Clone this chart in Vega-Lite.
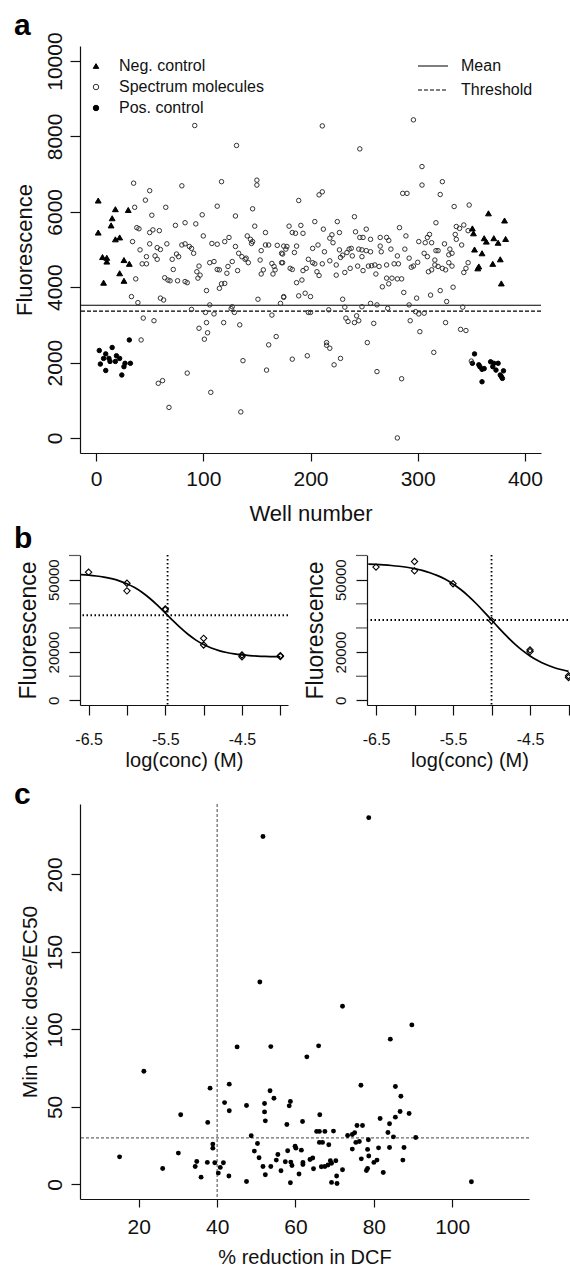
{
"$schema": "https://vega.github.io/schema/vega-lite/v6.json",
"background": "white",
"padding": {"left": 13, "top": 10, "right": 0, "bottom": 1},
"config": {
  "font": "Liberation Sans",
  "view": {"stroke": null},
  "axis": {"grid": false, "domainColor": "#111", "tickColor": "#111", "labelColor": "#111", "titleColor": "#111", "labelFont": "Liberation Sans", "titleFont": "Liberation Sans", "titleFontWeight": "normal", "domainWidth": 1.2, "tickWidth": 1.2, "labelFlush": false},
  "title": {"font": "Liberation Sans", "fontWeight": "bold", "fontSize": 30, "color": "#000", "anchor": "start", "frame": "group"}
},
"datasets": {
  "wells": [
    {"w":2,"f":6300,"t":"Neg. control"},{"w":18,"f":6070,"t":"Neg. control"},{"w":30,"f":6050,"t":"Neg. control"},{"w":15,"f":5830,"t":"Neg. control"},{"w":14,"f":5640,"t":"Neg. control"},{"w":2,"f":5450,"t":"Neg. control"},{"w":18,"f":5270,"t":"Neg. control"},{"w":22,"f":5320,"t":"Neg. control"},{"w":6,"f":4800,"t":"Neg. control"},{"w":10,"f":4780,"t":"Neg. control"},{"w":10,"f":4680,"t":"Neg. control"},{"w":26,"f":4720,"t":"Neg. control"},{"w":31,"f":4620,"t":"Neg. control"},{"w":22,"f":4370,"t":"Neg. control"},{"w":26,"f":4170,"t":"Neg. control"},{"w":7,"f":4120,"t":"Neg. control"},
    {"w":366,"f":5960,"t":"Neg. control"},{"w":351,"f":5560,"t":"Neg. control"},{"w":352,"f":5430,"t":"Neg. control"},{"w":362,"f":5300,"t":"Neg. control"},{"w":364,"f":5210,"t":"Neg. control"},{"w":353,"f":5000,"t":"Neg. control"},{"w":360,"f":4900,"t":"Neg. control"},{"w":357,"f":4550,"t":"Neg. control"},{"w":356,"f":4500,"t":"Neg. control"},{"w":370,"f":4620,"t":"Neg. control"},{"w":377,"f":4740,"t":"Neg. control"},{"w":378,"f":4100,"t":"Neg. control"},{"w":381,"f":5770,"t":"Neg. control"},{"w":382,"f":5280,"t":"Neg. control"},{"w":375,"f":5180,"t":"Neg. control"},{"w":371,"f":5300,"t":"Neg. control"},
    {"w":31,"f":2600,"t":"Pos. control"},{"w":3,"f":2320,"t":"Pos. control"},{"w":15,"f":2400,"t":"Pos. control"},{"w":9,"f":2230,"t":"Pos. control"},{"w":19,"f":2180,"t":"Pos. control"},{"w":12,"f":2110,"t":"Pos. control"},{"w":22,"f":2110,"t":"Pos. control"},{"w":4,"f":1960,"t":"Pos. control"},{"w":13,"f":2030,"t":"Pos. control"},{"w":18,"f":2030,"t":"Pos. control"},{"w":27,"f":1980,"t":"Pos. control"},{"w":32,"f":1980,"t":"Pos. control"},{"w":26,"f":1890,"t":"Pos. control"},{"w":9,"f":1790,"t":"Pos. control"},{"w":24,"f":1670,"t":"Pos. control"},{"w":7,"f":2110,"t":"Pos. control"},
    {"w":353,"f":2230,"t":"Pos. control"},{"w":351,"f":1980,"t":"Pos. control"},{"w":357,"f":1940,"t":"Pos. control"},{"w":358,"f":1890,"t":"Pos. control"},{"w":360,"f":1820,"t":"Pos. control"},{"w":360,"f":1490,"t":"Pos. control"},{"w":362,"f":1840,"t":"Pos. control"},{"w":368,"f":2020,"t":"Pos. control"},{"w":370,"f":1890,"t":"Pos. control"},{"w":371,"f":1980,"t":"Pos. control"},{"w":373,"f":1800,"t":"Pos. control"},{"w":375,"f":1980,"t":"Pos. control"},{"w":377,"f":1670,"t":"Pos. control"},{"w":378,"f":1630,"t":"Pos. control"},{"w":380,"f":1780,"t":"Pos. control"},{"w":379,"f":1580,"t":"Pos. control"},
    {"w":35,"f":6760,"t":"Spectrum molecules"},{"w":50,"f":6560,"t":"Spectrum molecules"},{"w":46,"f":6310,"t":"Spectrum molecules"},{"w":36,"f":6120,"t":"Spectrum molecules"},{"w":65,"f":6120,"t":"Spectrum molecules"},{"w":52,"f":5910,"t":"Spectrum molecules"},{"w":38,"f":5580,"t":"Spectrum molecules"},{"w":40,"f":5550,"t":"Spectrum molecules"},{"w":50,"f":5450,"t":"Spectrum molecules"},{"w":53,"f":5520,"t":"Spectrum molecules"},{"w":59,"f":5500,"t":"Spectrum molecules"},{"w":74,"f":5640,"t":"Spectrum molecules"},{"w":34,"f":5210,"t":"Spectrum molecules"},{"w":50,"f":5150,"t":"Spectrum molecules"},{"w":41,"f":4990,"t":"Spectrum molecules"},{"w":57,"f":5050,"t":"Spectrum molecules"},{"w":60,"f":5000,"t":"Spectrum molecules"},{"w":66,"f":5150,"t":"Spectrum molecules"},{"w":47,"f":4810,"t":"Spectrum molecules"},{"w":55,"f":4830,"t":"Spectrum molecules"},{"w":57,"f":4740,"t":"Spectrum molecules"},{"w":43,"f":4620,"t":"Spectrum molecules"},{"w":47,"f":4620,"t":"Spectrum molecules"},{"w":71,"f":4740,"t":"Spectrum molecules"},{"w":75,"f":4880,"t":"Spectrum molecules"},{"w":77,"f":4810,"t":"Spectrum molecules"},{"w":37,"f":4220,"t":"Spectrum molecules"},{"w":64,"f":4250,"t":"Spectrum molecules"},{"w":67,"f":4190,"t":"Spectrum molecules"},{"w":69,"f":4170,"t":"Spectrum molecules"},{"w":76,"f":4170,"t":"Spectrum molecules"},{"w":72,"f":4470,"t":"Spectrum molecules"},{"w":33,"f":3750,"t":"Spectrum molecules"},{"w":39,"f":3590,"t":"Spectrum molecules"},{"w":60,"f":3710,"t":"Spectrum molecules"},{"w":63,"f":3660,"t":"Spectrum molecules"},{"w":44,"f":3180,"t":"Spectrum molecules"},{"w":54,"f":3110,"t":"Spectrum molecules"},{"w":42,"f":2600,"t":"Spectrum molecules"},{"w":58,"f":1450,"t":"Spectrum molecules"},{"w":62,"f":1520,"t":"Spectrum molecules"},{"w":68,"f":810,"t":"Spectrum molecules"},
    {"w":92,"f":8290,"t":"Spectrum molecules"},{"w":131,"f":7760,"t":"Spectrum molecules"},{"w":80,"f":6690,"t":"Spectrum molecules"},{"w":117,"f":6800,"t":"Spectrum molecules"},{"w":150,"f":6840,"t":"Spectrum molecules"},{"w":150,"f":6710,"t":"Spectrum molecules"},{"w":113,"f":6150,"t":"Spectrum molecules"},{"w":146,"f":6080,"t":"Spectrum molecules"},{"w":99,"f":5920,"t":"Spectrum molecules"},{"w":130,"f":5890,"t":"Spectrum molecules"},{"w":83,"f":5710,"t":"Spectrum molecules"},{"w":93,"f":5680,"t":"Spectrum molecules"},{"w":148,"f":5620,"t":"Spectrum molecules"},{"w":158,"f":5450,"t":"Spectrum molecules"},{"w":100,"f":5360,"t":"Spectrum molecules"},{"w":124,"f":5320,"t":"Spectrum molecules"},{"w":120,"f":5210,"t":"Spectrum molecules"},{"w":108,"f":5160,"t":"Spectrum molecules"},{"w":113,"f":5140,"t":"Spectrum molecules"},{"w":80,"f":5120,"t":"Spectrum molecules"},{"w":83,"f":5150,"t":"Spectrum molecules"},{"w":87,"f":5080,"t":"Spectrum molecules"},{"w":89,"f":5030,"t":"Spectrum molecules"},{"w":91,"f":4900,"t":"Spectrum molecules"},{"w":130,"f":5080,"t":"Spectrum molecules"},{"w":141,"f":5360,"t":"Spectrum molecules"},{"w":144,"f":5270,"t":"Spectrum molecules"},{"w":146,"f":5210,"t":"Spectrum molecules"},{"w":145,"f":5160,"t":"Spectrum molecules"},{"w":154,"f":4970,"t":"Spectrum molecules"},{"w":158,"f":5120,"t":"Spectrum molecules"},{"w":161,"f":5120,"t":"Spectrum molecules"},{"w":169,"f":5110,"t":"Spectrum molecules"},{"w":173,"f":4900,"t":"Spectrum molecules"},{"w":133,"f":4900,"t":"Spectrum molecules"},{"w":136,"f":4810,"t":"Spectrum molecules"},{"w":139,"f":4740,"t":"Spectrum molecules"},{"w":142,"f":4650,"t":"Spectrum molecules"},{"w":140,"f":4770,"t":"Spectrum molecules"},{"w":106,"f":4650,"t":"Spectrum molecules"},{"w":110,"f":4680,"t":"Spectrum molecules"},{"w":113,"f":4470,"t":"Spectrum molecules"},{"w":115,"f":4460,"t":"Spectrum molecules"},{"w":123,"f":4550,"t":"Spectrum molecules"},{"w":127,"f":4680,"t":"Spectrum molecules"},{"w":122,"f":4370,"t":"Spectrum molecules"},{"w":96,"f":4560,"t":"Spectrum molecules"},{"w":94,"f":4410,"t":"Spectrum molecules"},{"w":97,"f":4320,"t":"Spectrum molecules"},{"w":153,"f":4720,"t":"Spectrum molecules"},{"w":156,"f":4460,"t":"Spectrum molecules"},{"w":154,"f":4350,"t":"Spectrum molecules"},{"w":164,"f":4630,"t":"Spectrum molecules"},{"w":166,"f":4550,"t":"Spectrum molecules"},{"w":167,"f":4460,"t":"Spectrum molecules"},{"w":165,"f":4350,"t":"Spectrum molecules"},{"w":173,"f":4650,"t":"Spectrum molecules"},{"w":132,"f":4440,"t":"Spectrum molecules"},{"w":83,"f":4150,"t":"Spectrum molecules"},{"w":85,"f":4120,"t":"Spectrum molecules"},{"w":95,"f":4240,"t":"Spectrum molecules"},{"w":117,"f":4090,"t":"Spectrum molecules"},{"w":120,"f":4100,"t":"Spectrum molecules"},{"w":115,"f":3970,"t":"Spectrum molecules"},{"w":103,"f":3910,"t":"Spectrum molecules"},{"w":151,"f":3680,"t":"Spectrum molecules"},{"w":175,"f":3750,"t":"Spectrum molecules"},{"w":172,"f":3570,"t":"Spectrum molecules"},{"w":106,"f":3530,"t":"Spectrum molecules"},{"w":89,"f":3410,"t":"Spectrum molecules"},{"w":102,"f":3330,"t":"Spectrum molecules"},{"w":110,"f":3290,"t":"Spectrum molecules"},{"w":127,"f":3480,"t":"Spectrum molecules"},{"w":126,"f":3430,"t":"Spectrum molecules"},{"w":129,"f":3330,"t":"Spectrum molecules"},{"w":164,"f":3260,"t":"Spectrum molecules"},{"w":103,"f":3060,"t":"Spectrum molecules"},{"w":119,"f":3060,"t":"Spectrum molecules"},{"w":134,"f":3000,"t":"Spectrum molecules"},{"w":96,"f":2910,"t":"Spectrum molecules"},{"w":104,"f":2790,"t":"Spectrum molecules"},{"w":101,"f":2620,"t":"Spectrum molecules"},{"w":168,"f":2690,"t":"Spectrum molecules"},{"w":161,"f":2470,"t":"Spectrum molecules"},{"w":137,"f":2050,"t":"Spectrum molecules"},{"w":159,"f":1800,"t":"Spectrum molecules"},{"w":85,"f":1720,"t":"Spectrum molecules"},{"w":107,"f":1210,"t":"Spectrum molecules"},{"w":135,"f":690,"t":"Spectrum molecules"},
    {"w":211,"f":8280,"t":"Spectrum molecules"},{"w":246,"f":7670,"t":"Spectrum molecules"},{"w":208,"f":6450,"t":"Spectrum molecules"},{"w":211,"f":6530,"t":"Spectrum molecules"},{"w":189,"f":6300,"t":"Spectrum molecules"},{"w":241,"f":5870,"t":"Spectrum molecules"},{"w":204,"f":5740,"t":"Spectrum molecules"},{"w":225,"f":5740,"t":"Spectrum molecules"},{"w":180,"f":5620,"t":"Spectrum molecules"},{"w":191,"f":5640,"t":"Spectrum molecules"},{"w":183,"f":5450,"t":"Spectrum molecules"},{"w":186,"f":5430,"t":"Spectrum molecules"},{"w":193,"f":5430,"t":"Spectrum molecules"},{"w":212,"f":5540,"t":"Spectrum molecules"},{"w":227,"f":5450,"t":"Spectrum molecules"},{"w":252,"f":5540,"t":"Spectrum molecules"},{"w":220,"f":5390,"t":"Spectrum molecules"},{"w":218,"f":5300,"t":"Spectrum molecules"},{"w":221,"f":5180,"t":"Spectrum molecules"},{"w":242,"f":5470,"t":"Spectrum molecules"},{"w":246,"f":5320,"t":"Spectrum molecules"},{"w":249,"f":5320,"t":"Spectrum molecules"},{"w":256,"f":5270,"t":"Spectrum molecules"},{"w":265,"f":5320,"t":"Spectrum molecules"},{"w":271,"f":5320,"t":"Spectrum molecules"},{"w":175,"f":5090,"t":"Spectrum molecules"},{"w":178,"f":5080,"t":"Spectrum molecules"},{"w":177,"f":5010,"t":"Spectrum molecules"},{"w":174,"f":4880,"t":"Spectrum molecules"},{"w":185,"f":4920,"t":"Spectrum molecules"},{"w":187,"f":5090,"t":"Spectrum molecules"},{"w":202,"f":5030,"t":"Spectrum molecules"},{"w":207,"f":5120,"t":"Spectrum molecules"},{"w":213,"f":4940,"t":"Spectrum molecules"},{"w":227,"f":4990,"t":"Spectrum molecules"},{"w":230,"f":4850,"t":"Spectrum molecules"},{"w":234,"f":4920,"t":"Spectrum molecules"},{"w":236,"f":5010,"t":"Spectrum molecules"},{"w":238,"f":5030,"t":"Spectrum molecules"},{"w":239,"f":4830,"t":"Spectrum molecules"},{"w":245,"f":5010,"t":"Spectrum molecules"},{"w":248,"f":4990,"t":"Spectrum molecules"},{"w":252,"f":4970,"t":"Spectrum molecules"},{"w":256,"f":4940,"t":"Spectrum molecules"},{"w":265,"f":5090,"t":"Spectrum molecules"},{"w":266,"f":4940,"t":"Spectrum molecules"},{"w":174,"f":4650,"t":"Spectrum molecules"},{"w":198,"f":4740,"t":"Spectrum molecules"},{"w":202,"f":4650,"t":"Spectrum molecules"},{"w":204,"f":4620,"t":"Spectrum molecules"},{"w":211,"f":4620,"t":"Spectrum molecules"},{"w":218,"f":4700,"t":"Spectrum molecules"},{"w":224,"f":4590,"t":"Spectrum molecules"},{"w":228,"f":4790,"t":"Spectrum molecules"},{"w":232,"f":4390,"t":"Spectrum molecules"},{"w":237,"f":4500,"t":"Spectrum molecules"},{"w":244,"f":4560,"t":"Spectrum molecules"},{"w":248,"f":4810,"t":"Spectrum molecules"},{"w":249,"f":4440,"t":"Spectrum molecules"},{"w":254,"f":4560,"t":"Spectrum molecules"},{"w":257,"f":4570,"t":"Spectrum molecules"},{"w":260,"f":4590,"t":"Spectrum molecules"},{"w":261,"f":4350,"t":"Spectrum molecules"},{"w":264,"f":4550,"t":"Spectrum molecules"},{"w":271,"f":4590,"t":"Spectrum molecules"},{"w":271,"f":4240,"t":"Spectrum molecules"},{"w":181,"f":4500,"t":"Spectrum molecules"},{"w":183,"f":4470,"t":"Spectrum molecules"},{"w":193,"f":4440,"t":"Spectrum molecules"},{"w":196,"f":4500,"t":"Spectrum molecules"},{"w":206,"f":4410,"t":"Spectrum molecules"},{"w":208,"f":4310,"t":"Spectrum molecules"},{"w":224,"f":4320,"t":"Spectrum molecules"},{"w":187,"f":4120,"t":"Spectrum molecules"},{"w":192,"f":4190,"t":"Spectrum molecules"},{"w":267,"f":4010,"t":"Spectrum molecules"},{"w":273,"f":4090,"t":"Spectrum molecules"},{"w":189,"f":3770,"t":"Spectrum molecules"},{"w":195,"f":3840,"t":"Spectrum molecules"},{"w":200,"f":3750,"t":"Spectrum molecules"},{"w":175,"f":3730,"t":"Spectrum molecules"},{"w":230,"f":3680,"t":"Spectrum molecules"},{"w":232,"f":3470,"t":"Spectrum molecules"},{"w":256,"f":3570,"t":"Spectrum molecules"},{"w":262,"f":3530,"t":"Spectrum molecules"},{"w":248,"f":3480,"t":"Spectrum molecules"},{"w":272,"f":3440,"t":"Spectrum molecules"},{"w":198,"f":3330,"t":"Spectrum molecules"},{"w":200,"f":3330,"t":"Spectrum molecules"},{"w":217,"f":3400,"t":"Spectrum molecules"},{"w":233,"f":3180,"t":"Spectrum molecules"},{"w":235,"f":3090,"t":"Spectrum molecules"},{"w":241,"f":3060,"t":"Spectrum molecules"},{"w":245,"f":3110,"t":"Spectrum molecules"},{"w":243,"f":3240,"t":"Spectrum molecules"},{"w":259,"f":3040,"t":"Spectrum molecules"},{"w":253,"f":2530,"t":"Spectrum molecules"},{"w":215,"f":2530,"t":"Spectrum molecules"},{"w":215,"f":2460,"t":"Spectrum molecules"},{"w":218,"f":2380,"t":"Spectrum molecules"},{"w":183,"f":2090,"t":"Spectrum molecules"},{"w":197,"f":2180,"t":"Spectrum molecules"},{"w":228,"f":2110,"t":"Spectrum molecules"},{"w":222,"f":1940,"t":"Spectrum molecules"},{"w":262,"f":1760,"t":"Spectrum molecules"},
    {"w":296,"f":8440,"t":"Spectrum molecules"},{"w":304,"f":7200,"t":"Spectrum molecules"},{"w":286,"f":6490,"t":"Spectrum molecules"},{"w":290,"f":6490,"t":"Spectrum molecules"},{"w":304,"f":6710,"t":"Spectrum molecules"},{"w":323,"f":6800,"t":"Spectrum molecules"},{"w":321,"f":6460,"t":"Spectrum molecules"},{"w":334,"f":6140,"t":"Spectrum molecules"},{"w":348,"f":6180,"t":"Spectrum molecules"},{"w":283,"f":5580,"t":"Spectrum molecules"},{"w":317,"f":5710,"t":"Spectrum molecules"},{"w":336,"f":5610,"t":"Spectrum molecules"},{"w":343,"f":5650,"t":"Spectrum molecules"},{"w":339,"f":5560,"t":"Spectrum molecules"},{"w":335,"f":5400,"t":"Spectrum molecules"},{"w":273,"f":5240,"t":"Spectrum molecules"},{"w":289,"f":5360,"t":"Spectrum molecules"},{"w":301,"f":5210,"t":"Spectrum molecules"},{"w":309,"f":5320,"t":"Spectrum molecules"},{"w":311,"f":5400,"t":"Spectrum molecules"},{"w":307,"f":5180,"t":"Spectrum molecules"},{"w":313,"f":5180,"t":"Spectrum molecules"},{"w":336,"f":5270,"t":"Spectrum molecules"},{"w":341,"f":5120,"t":"Spectrum molecules"},{"w":347,"f":5500,"t":"Spectrum molecules"},{"w":325,"f":5150,"t":"Spectrum molecules"},{"w":275,"f":5010,"t":"Spectrum molecules"},{"w":288,"f":5010,"t":"Spectrum molecules"},{"w":317,"f":4970,"t":"Spectrum molecules"},{"w":319,"f":4970,"t":"Spectrum molecules"},{"w":330,"f":5010,"t":"Spectrum molecules"},{"w":329,"f":4860,"t":"Spectrum molecules"},{"w":332,"f":4900,"t":"Spectrum molecules"},{"w":281,"f":4830,"t":"Spectrum molecules"},{"w":306,"f":4900,"t":"Spectrum molecules"},{"w":309,"f":4810,"t":"Spectrum molecules"},{"w":292,"f":4770,"t":"Spectrum molecules"},{"w":278,"f":4620,"t":"Spectrum molecules"},{"w":282,"f":4620,"t":"Spectrum molecules"},{"w":300,"f":4660,"t":"Spectrum molecules"},{"w":296,"f":4560,"t":"Spectrum molecules"},{"w":294,"f":4530,"t":"Spectrum molecules"},{"w":316,"f":4720,"t":"Spectrum molecules"},{"w":316,"f":4590,"t":"Spectrum molecules"},{"w":319,"f":4550,"t":"Spectrum molecules"},{"w":323,"f":4500,"t":"Spectrum molecules"},{"w":326,"f":4460,"t":"Spectrum molecules"},{"w":329,"f":4650,"t":"Spectrum molecules"},{"w":332,"f":4560,"t":"Spectrum molecules"},{"w":310,"f":4410,"t":"Spectrum molecules"},{"w":313,"f":4460,"t":"Spectrum molecules"},{"w":347,"f":4650,"t":"Spectrum molecules"},{"w":345,"f":4500,"t":"Spectrum molecules"},{"w":343,"f":4390,"t":"Spectrum molecules"},{"w":276,"f":4240,"t":"Spectrum molecules"},{"w":281,"f":4220,"t":"Spectrum molecules"},{"w":285,"f":4220,"t":"Spectrum molecules"},{"w":287,"f":3860,"t":"Spectrum molecules"},{"w":312,"f":3790,"t":"Spectrum molecules"},{"w":321,"f":3910,"t":"Spectrum molecules"},{"w":333,"f":4000,"t":"Spectrum molecules"},{"w":299,"f":3710,"t":"Spectrum molecules"},{"w":327,"f":3620,"t":"Spectrum molecules"},{"w":292,"f":3530,"t":"Spectrum molecules"},{"w":342,"f":3470,"t":"Spectrum molecules"},{"w":298,"f":3350,"t":"Spectrum molecules"},{"w":301,"f":3290,"t":"Spectrum molecules"},{"w":306,"f":3310,"t":"Spectrum molecules"},{"w":293,"f":3110,"t":"Spectrum molecules"},{"w":326,"f":3060,"t":"Spectrum molecules"},{"w":302,"f":2820,"t":"Spectrum molecules"},{"w":340,"f":2880,"t":"Spectrum molecules"},{"w":345,"f":2850,"t":"Spectrum molecules"},{"w":315,"f":2270,"t":"Spectrum molecules"},{"w":350,"f":2040,"t":"Spectrum molecules"},{"w":285,"f":1570,"t":"Spectrum molecules"},{"w":281,"f":0,"t":"Spectrum molecules"}
  ],
  "curveL": [
    {"x":-6.6,"y":52070},{"x":-6.5,"y":51840},{"x":-6.4,"y":51510},{"x":-6.3,"y":51040},{"x":-6.2,"y":50390},{"x":-6.1,"y":49500},{"x":-6.0,"y":48290},{"x":-5.9,"y":46700},{"x":-5.8,"y":44670},{"x":-5.7,"y":42190},{"x":-5.6,"y":39330},{"x":-5.5,"y":36210},{"x":-5.4,"y":33030},{"x":-5.3,"y":29990},{"x":-5.2,"y":27270},{"x":-5.1,"y":24970},{"x":-5.0,"y":23120},{"x":-4.9,"y":21690},{"x":-4.8,"y":20610},{"x":-4.7,"y":19820},{"x":-4.6,"y":19250},{"x":-4.5,"y":18850},{"x":-4.4,"y":18560},{"x":-4.3,"y":18360},{"x":-4.2,"y":18220},{"x":-4.1,"y":18120},{"x":-4.0,"y":18050}
  ],
  "curveR": [
    {"x":-6.6,"y":56410},{"x":-6.5,"y":56280},{"x":-6.4,"y":56100},{"x":-6.3,"y":55860},{"x":-6.2,"y":55540},{"x":-6.1,"y":55120},{"x":-6.0,"y":54560},{"x":-5.9,"y":53820},{"x":-5.8,"y":52870},{"x":-5.7,"y":51650},{"x":-5.6,"y":50110},{"x":-5.5,"y":48200},{"x":-5.4,"y":45900},{"x":-5.3,"y":43200},{"x":-5.2,"y":40130},{"x":-5.1,"y":36790},{"x":-5.0,"y":33300},{"x":-4.9,"y":29810},{"x":-4.8,"y":26470},{"x":-4.7,"y":23400},{"x":-4.6,"y":20700},{"x":-4.5,"y":18400},{"x":-4.4,"y":16490},{"x":-4.3,"y":14950},{"x":-4.2,"y":13730},{"x":-4.1,"y":12780},{"x":-4.0,"y":12040}
  ],
  "ptsL": [
    {"x":-6.5,"y":53100},{"x":-6.0,"y":48500},{"x":-6.0,"y":45350},{"x":-5.5,"y":37900},{"x":-5.5,"y":37500},{"x":-5.0,"y":25700},{"x":-5.0,"y":22950},{"x":-4.5,"y":18800},{"x":-4.5,"y":18100},{"x":-4.0,"y":18500},{"x":-4.0,"y":18200}
  ],
  "ptsR": [
    {"x":-6.5,"y":55200},{"x":-6.0,"y":57500},{"x":-6.0,"y":53650},{"x":-5.5,"y":48300},{"x":-5.0,"y":33000},{"x":-4.5,"y":20900},{"x":-4.5,"y":20200},{"x":-4.0,"y":10200},{"x":-4.0,"y":9500}
  ],
  "minorTicks": [{"v": 10000}, {"v": 30000}, {"v": 40000}, {"v": 60000}],
  "dcf": [
    {"p":78.7,"r":236.6},{"p":51.7,"r":224.4},{"p":50.9,"r":130.6},{"p":72.0,"r":114.9},{"p":89.7,"r":102.9},{"p":84.2,"r":93.7},{"p":45.1,"r":88.7},{"p":53.7,"r":88.9},{"p":65.9,"r":89.4},{"p":62.9,"r":82.3},{"p":21.3,"r":73.0},{"p":76.7,"r":64.0},{"p":43.1,"r":64.7},{"p":85.5,"r":63.2},{"p":38.2,"r":62.1},{"p":53.5,"r":60.4},{"p":54.5,"r":55.6},{"p":86.9,"r":56.9},{"p":41.9,"r":52.8},{"p":52.1,"r":52.2},{"p":58.7,"r":53.5},{"p":58.4,"r":50.7},{"p":47.5,"r":50.9},{"p":43.1,"r":47.5},{"p":52.1,"r":46.8},{"p":86.7,"r":47.0},{"p":89.0,"r":45.8},{"p":85.5,"r":43.4},{"p":30.7,"r":44.9},{"p":66.2,"r":44.9},{"p":81.6,"r":42.5},{"p":52.3,"r":41.0},{"p":61.8,"r":40.6},{"p":37.6,"r":40.0},{"p":57.8,"r":38.7},{"p":75.7,"r":38.0},{"p":77.1,"r":38.0},{"p":84.0,"r":39.1},{"p":65.4,"r":34.2},{"p":66.1,"r":34.2},{"p":67.5,"r":34.2},{"p":69.7,"r":34.4},{"p":83.6,"r":33.5},{"p":73.3,"r":31.6},{"p":74.5,"r":32.2},{"p":75.1,"r":33.3},{"p":48.7,"r":31.4},{"p":85.0,"r":30.7},{"p":90.7,"r":30.3},{"p":78.6,"r":28.8},{"p":76.3,"r":27.7},{"p":66.1,"r":27.1},{"p":66.9,"r":27.1},{"p":68.5,"r":25.6},{"p":75.4,"r":27.1},{"p":50.3,"r":26.4},{"p":38.9,"r":26.0},{"p":38.9,"r":23.4},{"p":59.9,"r":24.7},{"p":60.1,"r":23.4},{"p":61.5,"r":22.1},{"p":58.0,"r":21.7},{"p":81.2,"r":23.6},{"p":84.0,"r":23.8},{"p":87.7,"r":23.8},{"p":74.5,"r":22.8},{"p":78.4,"r":22.6},{"p":49.5,"r":21.5},{"p":30.1,"r":20.2},{"p":55.5,"r":19.3},{"p":78.7,"r":18.3},{"p":50.7,"r":17.2},{"p":15.1,"r":17.8},{"p":34.8,"r":14.8},{"p":37.5,"r":14.2},{"p":39.4,"r":14.0},{"p":41.6,"r":14.0},{"p":55.1,"r":15.7},{"p":57.4,"r":14.6},{"p":58.8,"r":14.4},{"p":63.7,"r":16.1},{"p":64.4,"r":17.0},{"p":61.9,"r":14.2},{"p":68.9,"r":15.3},{"p":70.3,"r":15.3},{"p":69.2,"r":13.7},{"p":76.8,"r":16.5},{"p":80.8,"r":15.7},{"p":87.4,"r":15.7},{"p":80.0,"r":14.2},{"p":78.4,"r":10.3},{"p":78.1,"r":9.0},{"p":34.4,"r":11.6},{"p":26.1,"r":10.3},{"p":40.8,"r":11.0},{"p":51.7,"r":11.6},{"p":53.7,"r":11.6},{"p":59.1,"r":12.2},{"p":61.9,"r":12.9},{"p":66.6,"r":11.4},{"p":67.5,"r":11.6},{"p":68.3,"r":12.5},{"p":56.3,"r":8.8},{"p":64.6,"r":10.1},{"p":72.0,"r":9.5},{"p":40.3,"r":7.3},{"p":60.9,"r":6.7},{"p":52.3,"r":6.2},{"p":43.0,"r":5.4},{"p":35.9,"r":4.7},{"p":70.5,"r":5.4},{"p":82.4,"r":7.7},{"p":47.5,"r":1.9},{"p":58.7,"r":1.1},{"p":69.2,"r":1.3},{"p":70.6,"r":0.6},{"p":104.9,"r":1.7}
  ]
},
"spacing": 0,
"vconcat": [
  {
    "width": 461, "height": 407,
    "title": {"text": "a", "dx": -66, "offset": -9},
    "layer": [
      {
        "data": {"values": [{"line": "Mean", "v": 3520}, {"line": "Threshold", "v": 3365}]},
        "mark": {"type": "rule", "color": "#000", "strokeWidth": 1.2},
        "encoding": {
          "y": {"field": "v", "type": "quantitative", "scale": {"domain": [-400, 10400], "nice": false, "zero": false},
                "axis": {"title": "Fluorescence", "values": [0, 2000, 4000, 6000, 8000, 10000], "format": "d", "labelAngle": -90, "labelAlign": "center", "labelBaseline": "bottom", "labelFontSize": 21, "titleFontSize": 22, "tickSize": 10, "labelPadding": 5, "titlePadding": 8}},
          "strokeDash": {"field": "line", "type": "nominal", "scale": {"domain": ["Mean", "Threshold"], "range": [[1, 0], [4, 2]]},
                "legend": {"title": null, "orient": "none", "legendX": 337, "legendY": 4, "labelFontSize": 16, "labelFont": "Liberation Sans", "labelColor": "#111", "symbolSize": 900, "symbolType": "stroke", "symbolStrokeWidth": 1.2, "symbolStrokeColor": "#000", "rowPadding": -8, "labelOffset": 12, "padding": 0}}
        }
      },
      {
        "data": {"name": "wells"},
        "transform": [{"filter": "datum.t != 'Neg. control'"}],
        "mark": {"type": "point", "filled": true, "size": 20, "strokeWidth": 1, "opacity": 1},
        "encoding": {
          "x": {"field": "w", "type": "quantitative", "scale": {"domain": [-15, 415], "nice": false, "zero": false},
                "axis": {"title": "Well number", "values": [0, 100, 200, 300, 400], "labelFontSize": 21, "titleFontSize": 22, "tickSize": 8, "labelPadding": 7, "titlePadding": 14}},
          "y": {"field": "f", "type": "quantitative"},
          "shape": {"field": "t", "type": "nominal", "scale": {"domain": ["Neg. control", "Spectrum molecules", "Pos. control"], "range": ["triangle-up", "circle", "circle"]},
                "legend": {"title": null, "orient": "none", "legendX": 8, "legendY": 12, "labelFontSize": 16, "labelFont": "Liberation Sans", "labelColor": "#111", "symbolSize": 30, "symbolStrokeWidth": 1, "rowPadding": 5, "labelOffset": 15, "padding": 0}},
          "fill": {"field": "t", "type": "nominal", "scale": {"domain": ["Neg. control", "Spectrum molecules", "Pos. control"], "range": ["#000", "transparent", "#000"]},
                "legend": {"title": null, "orient": "none", "legendX": 8, "legendY": 12, "labelFontSize": 16, "labelFont": "Liberation Sans", "labelColor": "#111", "symbolSize": 30, "symbolStrokeWidth": 1, "rowPadding": 5, "labelOffset": 15, "padding": 0}},
          "stroke": {"field": "t", "type": "nominal", "scale": {"domain": ["Neg. control", "Spectrum molecules", "Pos. control"], "range": ["#000", "#333", "#000"]},
                "legend": {"title": null, "orient": "none", "legendX": 8, "legendY": 12, "labelFontSize": 16, "labelFont": "Liberation Sans", "labelColor": "#111", "symbolSize": 30, "symbolStrokeWidth": 1, "rowPadding": 5, "labelOffset": 15, "padding": 0}}
        }
      },
      {
        "data": {"name": "wells"},
        "transform": [{"filter": "datum.t == 'Neg. control'"}],
        "mark": {"type": "point", "filled": true, "size": 34, "strokeWidth": 1, "opacity": 1},
        "encoding": {
          "x": {"field": "w", "type": "quantitative"},
          "y": {"field": "f", "type": "quantitative"},
          "shape": {"field": "t", "type": "nominal"},
          "fill": {"field": "t", "type": "nominal"},
          "stroke": {"field": "t", "type": "nominal"}
        }
      }
    ]
  },
  {
    "spacing": 9,
    "vconcat": [
      {
        "spacing": 14,
        "hconcat": [
          {
            "width": 208, "height": 150,
            "title": {"text": "b", "dx": -66, "offset": 0},
            "layer": [
              {"data": {"values": [{"v": -5.47}]}, "mark": {"type": "rule", "color": "#000", "strokeWidth": 1.8, "strokeDash": [1.5, 2.5]},
               "encoding": {"x": {"field": "v", "type": "quantitative", "scale": {"domain": [-6.612, -3.9], "nice": false, "zero": false},
                 "axis": {"title": "log(conc) (M)", "values": [-6.5, -6, -5.5, -5, -4.5, -4], "labelExpr": "(datum.value == -6.5 || datum.value == -5.5 || datum.value == -4.5) ? ('' + datum.value) : ''", "labelFontSize": 16, "titleFontSize": 20, "tickSize": 10, "labelPadding": 16, "titlePadding": 3}}}},
              {"data": {"values": [{"v": 35250}]}, "mark": {"type": "rule", "color": "#000", "strokeWidth": 1.8, "strokeDash": [1.5, 2.5]},
               "encoding": {"y": {"field": "v", "type": "quantitative", "scale": {"domain": [-1900, 60200], "nice": false, "zero": false},
                 "axis": {"title": "Fluorescence", "values": [0, 20000, 50000], "format": "d", "labelAngle": -90, "labelAlign": "center", "labelBaseline": "bottom", "labelFontSize": 15, "titleFontSize": 23, "tickSize": 11, "labelPadding": 8, "titlePadding": 6}}}},
              {"data": {"name": "minorTicks"}, "mark": {"type": "tick", "orient": "horizontal", "size": 11, "thickness": 1.2, "color": "#111", "xOffset": -5.5},
               "encoding": {"y": {"field": "v", "type": "quantitative"}, "x": {"datum": -6.612, "type": "quantitative"}}},
              {"data": {"name": "curveL"}, "mark": {"type": "line", "color": "#000", "strokeWidth": 1.7, "interpolate": "monotone"},
               "encoding": {"x": {"field": "x", "type": "quantitative"}, "y": {"field": "y", "type": "quantitative"}}},
              {"data": {"name": "ptsL"}, "mark": {"type": "point", "shape": "diamond", "filled": false, "color": "#000", "size": 40, "strokeWidth": 1.1, "opacity": 1},
               "encoding": {"x": {"field": "x", "type": "quantitative"}, "y": {"field": "y", "type": "quantitative"}}}
            ]
          },
          {
            "width": 205, "height": 150,
            "layer": [
              {"data": {"values": [{"v": -5.0}]}, "mark": {"type": "rule", "color": "#000", "strokeWidth": 1.8, "strokeDash": [1.5, 2.5]},
               "encoding": {"x": {"field": "v", "type": "quantitative", "scale": {"domain": [-6.617, -3.955], "nice": false, "zero": false},
                 "axis": {"title": "log(conc) (M)", "values": [-6.5, -6, -5.5, -5, -4.5, -4], "labelExpr": "(datum.value == -6.5 || datum.value == -5.5 || datum.value == -4.5) ? ('' + datum.value) : ''", "labelFontSize": 16, "titleFontSize": 20, "tickSize": 10, "labelPadding": 16, "titlePadding": 3}}}},
              {"data": {"values": [{"v": 33300}]}, "mark": {"type": "rule", "color": "#000", "strokeWidth": 1.8, "strokeDash": [1.5, 2.5]},
               "encoding": {"y": {"field": "v", "type": "quantitative", "scale": {"domain": [-1900, 60200], "nice": false, "zero": false},
                 "axis": {"title": "Fluorescence", "values": [0, 20000, 50000], "format": "d", "labelAngle": -90, "labelAlign": "center", "labelBaseline": "bottom", "labelFontSize": 15, "titleFontSize": 23, "tickSize": 11, "labelPadding": 8, "titlePadding": 6}}}},
              {"data": {"name": "minorTicks"}, "mark": {"type": "tick", "orient": "horizontal", "size": 11, "thickness": 1.2, "color": "#111", "xOffset": -5.5},
               "encoding": {"y": {"field": "v", "type": "quantitative"}, "x": {"datum": -6.617, "type": "quantitative"}}},
              {"data": {"name": "curveR"}, "mark": {"type": "line", "color": "#000", "strokeWidth": 1.7, "interpolate": "monotone", "clip": true},
               "encoding": {"x": {"field": "x", "type": "quantitative"}, "y": {"field": "y", "type": "quantitative"}}},
              {"data": {"name": "ptsR"}, "mark": {"type": "point", "shape": "diamond", "filled": false, "color": "#000", "size": 40, "strokeWidth": 1.1, "opacity": 1, "clip": true},
               "encoding": {"x": {"field": "x", "type": "quantitative"}, "y": {"field": "y", "type": "quantitative"}}}
            ]
          }
        ]
      },
      {
        "width": 449, "height": 395,
        "title": {"text": "c", "dx": -66, "offset": -6},
        "layer": [
          {"data": {"values": [{"v": 40}]}, "mark": {"type": "rule", "color": "#444", "strokeWidth": 1, "strokeDash": [3, 2]},
           "encoding": {"x": {"field": "v", "type": "quantitative", "scale": {"domain": [5, 119.6], "nice": false, "zero": false},
             "axis": {"title": "% reduction in DCF", "values": [20, 40, 60, 80, 100], "labelFontSize": 21, "titleFontSize": 20, "tickSize": 8, "labelPadding": 9, "titlePadding": 10}}}},
          {"data": {"values": [{"v": 30}]}, "mark": {"type": "rule", "color": "#444", "strokeWidth": 1, "strokeDash": [3, 2]},
           "encoding": {"y": {"field": "v", "type": "quantitative", "scale": {"domain": [-9.4, 245.4], "nice": false, "zero": false},
             "axis": {"title": "Min toxic dose/EC50", "values": [0, 50, 100, 150, 200], "labelAngle": -90, "labelAlign": "center", "labelBaseline": "bottom", "labelFontSize": 21, "titleFontSize": 21, "tickSize": 9, "labelPadding": 6, "titlePadding": 4}}}},
          {"data": {"name": "dcf"}, "mark": {"type": "point", "filled": true, "color": "#000", "size": 24, "opacity": 1},
           "encoding": {"x": {"field": "p", "type": "quantitative"}, "y": {"field": "r", "type": "quantitative"}}}
        ]
      }
    ]
  }
]
}
